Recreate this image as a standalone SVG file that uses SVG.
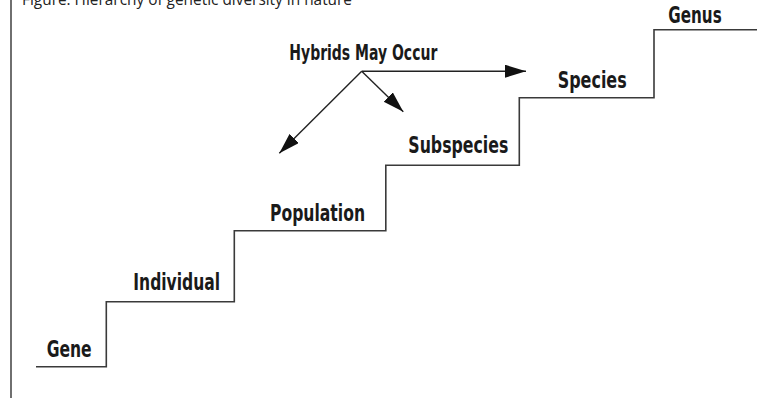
<svg xmlns="http://www.w3.org/2000/svg" width="767" height="398" viewBox="0 0 767 398">
<style>
.lbl{font-family:"Liberation Sans Narrow","DejaVu Sans Condensed","Liberation Sans",sans-serif;font-weight:bold;fill:#1a1a1a}
.step{fill:none;stroke:#3a3a3a;stroke-width:1.6}
.arr{fill:none;stroke:#222;stroke-width:1.4}
.title{font-family:"Open Sans","Noto Sans",sans-serif;font-size:16px;fill:#222}
</style>
<defs>
<marker id="ah" markerUnits="userSpaceOnUse" markerWidth="24" markerHeight="14" refX="21" refY="6.5" orient="auto">
<path d="M0,0 L21,6.5 L0,13 Z" fill="#111"/>
</marker>
</defs>
<rect width="767" height="398" fill="#fff"/>
<text class="title" x="22" y="5" textLength="330" lengthAdjust="spacingAndGlyphs">Figure: Hierarchy of genetic diversity in nature</text>
<line x1="11" y1="0" x2="11" y2="398" stroke="#333" stroke-width="1.4"/>
<g id="stairs">
<path class="step" d="M36,366.7 H106.3 V301.7 H234.3 V230.7 H385.8 V165.3 H519.3 V97.7 H654 V29.7 H757"/>
</g>
<g id="gene"><text class="lbl" x="46.7" y="356.7" font-size="23" textLength="45" lengthAdjust="spacingAndGlyphs">Gene</text></g>
<g id="individual"><text class="lbl" x="133.3" y="290" font-size="23" textLength="86.7" lengthAdjust="spacingAndGlyphs">Individual</text></g>
<g id="population"><text class="lbl" x="270" y="220.7" font-size="23" textLength="95" lengthAdjust="spacingAndGlyphs">Population</text></g>
<g id="subspecies"><text class="lbl" x="408.3" y="153.3" font-size="23" textLength="100" lengthAdjust="spacingAndGlyphs">Subspecies</text></g>
<g id="species"><text class="lbl" x="557.7" y="88.3" font-size="23" textLength="69" lengthAdjust="spacingAndGlyphs">Species</text></g>
<g id="genus"><text class="lbl" x="668.3" y="23.3" font-size="23" textLength="53.4" lengthAdjust="spacingAndGlyphs">Genus</text></g>
<g id="hybrids"><text class="lbl" x="289.3" y="60" font-size="20.5" textLength="148" lengthAdjust="spacingAndGlyphs">Hybrids May Occur</text></g>
<g id="connectors">
<line class="arr" x1="361.7" y1="71.2" x2="526" y2="71.2" marker-end="url(#ah)"/>
<line class="arr" x1="361.7" y1="71.2" x2="403.3" y2="111.7" marker-end="url(#ah)"/>
<line class="arr" x1="361.7" y1="71.2" x2="279.3" y2="153.3" marker-end="url(#ah)"/>
</g>
</svg>
